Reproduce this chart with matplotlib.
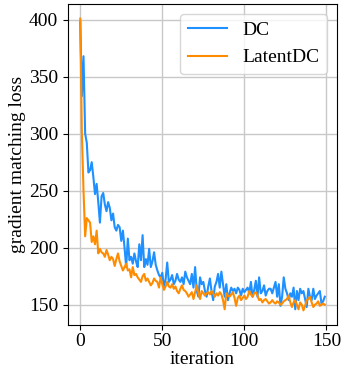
import matplotlib
matplotlib.use("Agg")
import matplotlib.pyplot as plt
import numpy as np

# loss per iteration
dc_loss = [
    398, 333, 368, 300, 292, 266, 268, 275, 262, 247,
    256, 240, 222, 245, 248, 238, 232, 240, 235, 224,
    230, 218, 215, 220, 218, 206, 215, 200, 183, 208,
    189, 192, 186, 195, 188, 183, 203, 189, 211, 183,
    190, 185, 199, 183, 188, 196, 185, 180, 176, 174,
    178, 166, 172, 187, 170, 172, 176, 168, 171, 177,
    172, 170, 174, 168, 179, 174, 171, 168, 177, 165,
    183, 162, 157, 174, 168, 170, 162, 157, 166, 173,
    162, 154, 166, 170, 177, 165, 179, 168, 157, 168,
    154, 160, 165, 162, 164, 160, 165, 163, 158, 164,
    161, 163, 165, 160, 170, 157, 163, 171, 157, 174,
    160, 162, 167, 158, 162, 164, 164, 160, 165, 170,
    157, 168, 149, 157, 174, 164, 160, 154, 160, 157,
    165, 146, 162, 154, 164, 160, 162, 155, 148, 164,
    157, 154, 164, 155, 158, 160, 162, 151, 153, 157,
]
latent_loss = [
    401, 300, 250, 210, 226, 224, 222, 205, 210, 203,
    215, 195, 199, 196, 195, 192, 198, 194, 189, 192,
    190, 184, 190, 195, 188, 184, 180, 183, 186, 180,
    181, 174, 183, 176, 177, 174, 172, 170, 175, 177,
    171, 173, 170, 167, 169, 173, 171, 170, 165, 174,
    168, 163, 166, 170, 166, 165, 168, 164, 166, 162,
    160, 164, 167, 163, 162, 160, 157, 159, 161, 155,
    161, 167, 160, 155, 162, 160, 158, 160, 161, 159,
    162, 160, 157, 160, 158, 161, 159, 154, 146, 160,
    158, 157, 159, 161, 156, 149, 156, 158, 154, 156,
    158, 155, 157, 162, 159, 157, 160, 161, 158, 154,
    155, 152, 154, 155, 153, 151, 152, 154, 152, 151,
    153, 152, 150, 151, 153, 154, 155, 158, 152, 148,
    152, 154, 150, 146, 152, 150, 145, 149, 154, 155,
    157, 152, 148, 150, 151, 153, 149, 150, 151, 150,
]
iterations = np.arange(len(dc_loss))

plt.rcParams["font.family"] = ["Liberation Serif", "DejaVu Serif"]
plt.rcParams["font.size"] = 14

fig = plt.figure(figsize=(3.44, 3.73), dpi=100)
ax = fig.add_axes([68 / 344, 48 / 373, 269 / 344, 321 / 373])

ax.plot(iterations, dc_loss, color="#1E90FF", lw=1.5, label="DC")
ax.plot(iterations, latent_loss, color="#FF8C00", lw=1.5, label="LatentDC")

ax.set_xticks([0, 50, 100, 150])
ax.set_yticks([150, 200, 250, 300, 350, 400])
ax.tick_params(axis="x", pad=2)
ax.set_xlabel("iteration", labelpad=1)
ax.set_ylabel("gradient matching loss", labelpad=2)
ax.grid(True, color="#c8c8c8", lw=1)
ax.set_axisbelow(True)
ax.legend(loc="upper right", fontsize=14)

fig.savefig("out.png", dpi=100)
